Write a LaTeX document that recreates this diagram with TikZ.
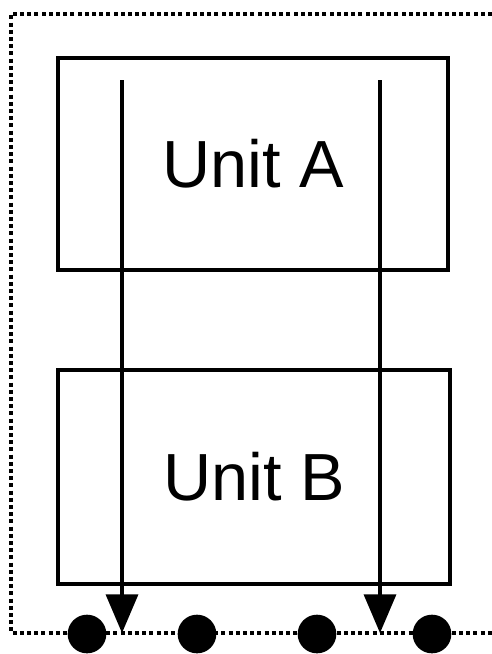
\documentclass[tikz,border=0pt]{standalone}
\usepackage{fontspec}
\setmainfont{Liberation Sans}
\usetikzlibrary{arrows.meta}
\begin{document}
\begin{tikzpicture}[x=0.75pt,y=-0.75pt,
  unitbox/.style={draw, line width=3pt, minimum width=292.5pt, inner sep=0pt,
                  font=\fontsize{50}{56}\selectfont},
  frame/.style={line width=2.6pt, dash pattern=on 3pt off 2.4pt},
  port/.style={circle, fill=black, inner sep=0pt, minimum size=29pt},
  flow/.style={line width=2.6pt, -{Triangle[length=29pt,width=24pt]}}]
  \useasboundingbox (0,0) rectangle (492,654);
  % enclosing dotted boundary, open on the right
  \draw[frame] (492,14) -- (11,14) -- (11,633) -- (492,633);
  % the two units
  \node[unitbox, minimum height=159pt] (ua) at (253,164) {Unit A};
  \node[unitbox, minimum width=294pt, minimum height=160.5pt] (ub) at (254,477) {Unit B};
  % ports on the boundary
  \node[port] (p1) at (87,634) {};
  \node[port] (p2) at (197,634) {};
  \node[port] (p3) at (317,634) {};
  \node[port] (p4) at (432,634) {};
  % signal lines passing through both units
  \coordinate (s1) at (122,80);
  \coordinate (s2) at (380,80);
  \coordinate (e1) at (122,633);
  \coordinate (e2) at (380,633);
  \draw[flow] (s1) -- (e1);
  \draw[flow] (s2) -- (e2);
\end{tikzpicture}
\end{document}
